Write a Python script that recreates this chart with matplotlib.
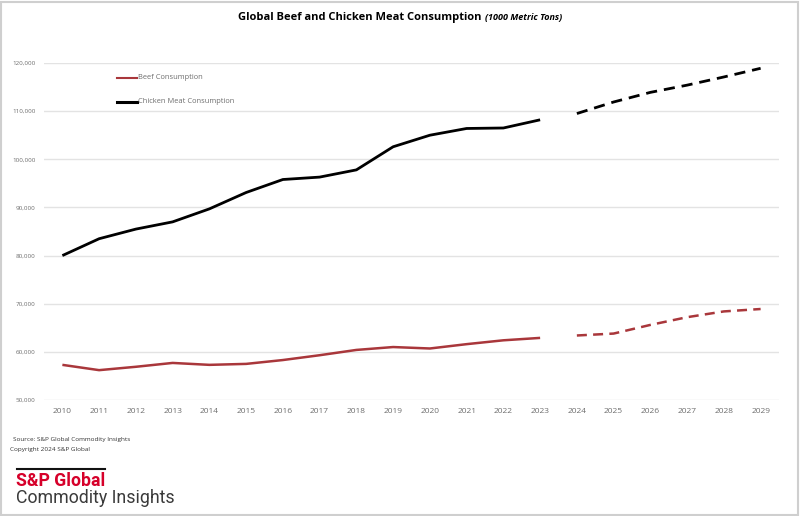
import numpy as np
import matplotlib.pyplot as plt
from matplotlib.patches import Rectangle
from matplotlib.ticker import FuncFormatter

# years and values (1000 metric tons)
years = list(range(2010, 2030))
hist_years = years[:14]      # 2010-2023
fcst_years = years[14:]      # 2024-2029

chicken_hist = [80000, 83500, 85500, 87000, 89700, 93100, 95800, 96300,
                97800, 102600, 105000, 106400, 106500, 108200]
chicken_fcst = [109500, 111900, 113900, 115400, 117100, 118900]

beef_hist = [57300, 56200, 56900, 57700, 57300, 57500, 58300, 59300,
             60400, 61000, 60700, 61600, 62400, 62900]
beef_fcst = [63400, 63800, 65600, 67200, 68400, 68900]

y_ticks = [50000, 60000, 70000, 80000, 90000, 100000, 110000, 120000]

beef_col = '#A9373B'
chick_col = '#000000'
grid_col = '#E3E3E3'
tick_col = '#6E6E6E'

plt.rcParams['font.family'] = ['Open Sans', 'DejaVu Sans']

fig = plt.figure(figsize=(8, 5.16), dpi=100)
W, H = 800, 516
ax = fig.add_axes([44 / W, 1 - 400 / H, (779 - 44) / W, (400 - 63) / H])

ax.plot(hist_years, beef_hist, color=beef_col, lw=1.8, solid_capstyle='butt')
ax.plot(fcst_years, beef_fcst, color=beef_col, lw=1.8, ls=(0, (4, 2.5)), clip_on=False)
ax.plot(hist_years, chicken_hist, color=chick_col, lw=2.0, solid_capstyle='butt')
ax.plot(fcst_years, chicken_fcst, color=chick_col, lw=2.0, ls=(0, (4, 2.5)), clip_on=False)

ax.set_xlim(2009.5, 2029.5)
ax.set_ylim(50000, 120000)
ax.set_xticks(years)
ax.set_yticks(y_ticks)
ax.yaxis.set_major_formatter(FuncFormatter(lambda v, p: f'{int(v):,}'))
ax.tick_params(axis='x', length=0, labelsize=6, colors=tick_col, pad=6)
ax.tick_params(axis='y', length=0, labelsize=4.5, colors=tick_col, pad=6)
ax.grid(axis='y', color=grid_col, lw=1)
ax.set_axisbelow(True)
for s in ax.spines.values():
    s.set_visible(False)

# legend drawn by hand like the original
fig.add_artist(plt.Line2D([117 / W, 137 / W], [1 - 77.5 / H, 1 - 77.5 / H],
                          color=beef_col, lw=1.5))
fig.text(138 / W, 1 - 77.5 / H, 'Beef Consumption', fontsize=5.4, color=tick_col,
         va='center', ha='left')
fig.add_artist(plt.Line2D([117 / W, 137 / W], [1 - 101.5 / H, 1 - 101.5 / H],
                          color=chick_col, lw=2.2))
fig.text(138 / W, 1 - 101.5 / H, 'Chicken Meat Consumption', fontsize=5.4, color=tick_col,
         va='center', ha='left')

# title: bold part + italic unit, centred together
t1 = fig.text(0, 1 - 17 / H, 'Global Beef and Chicken Meat Consumption ',
              fontsize=8, fontweight='bold', ha='left', va='center')
t2 = fig.text(0, 1 - 17.5 / H, '(1000 Metric Tons)', fontsize=6.5,
              fontstyle='italic', fontweight='bold', ha='left', va='center')
fig.canvas.draw()
w1 = t1.get_window_extent().width
w2 = t2.get_window_extent().width
x0 = 400 - (w1 + w2) / 2
t1.set_x(x0 / W)
t2.set_x((x0 + w1) / W)

# source notes
fig.text(13 / W, 1 - 440 / H, 'Source: S&P Global Commodity Insights', fontsize=4.6,
         color='#333333', va='center')
fig.text(10 / W, 1 - 450 / H, 'Copyright 2024 S&P Global', fontsize=4.6,
         color='#333333', va='center')

# logo
fig.add_artist(plt.Line2D([17 / W, 105 / W], [1 - 469 / H, 1 - 469 / H],
                          color='#111111', lw=1.5))
fig.text(16 / W, 1 - 486 / H, 'S&P Global', fontsize=12.7, fontweight='bold',
         color='#D6002A', va='baseline', family=['Roboto', 'DejaVu Sans'])
fig.text(16 / W, 1 - 503 / H, 'Commodity Insights', fontsize=12.8, color='#3A3A3A',
         va='baseline', family=['Roboto', 'DejaVu Sans'])

# outer frame
fig.add_artist(Rectangle((1 / W, 1 / H), 797 / W, 513 / H, transform=fig.transFigure,
                         fill=False, ec='#CFCFCF', lw=1.5))

fig.savefig('out.png', dpi=100)
